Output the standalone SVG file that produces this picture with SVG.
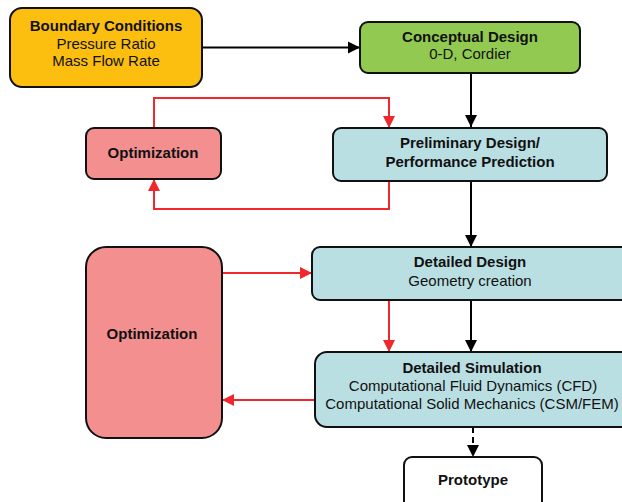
<svg xmlns="http://www.w3.org/2000/svg" width="622" height="502" viewBox="0 0 622 502">
<defs>
<style>
.box{stroke:#111;stroke-width:2}
.t{font-family:"Liberation Sans",Arial,sans-serif;font-size:15px;fill:#111;text-anchor:middle}
.b{font-weight:bold}
.k{fill:none;stroke:#000;stroke-width:2}
.r{fill:none;stroke:#F0282C;stroke-width:2}
</style>
<marker id="ak" markerUnits="userSpaceOnUse" markerWidth="13" markerHeight="13" refX="12" refY="6.5" orient="auto">
<path d="M0,0.5 L12,6.5 L0,12.5 Z" fill="#000"/>
</marker>
<marker id="ar" markerUnits="userSpaceOnUse" markerWidth="13" markerHeight="13" refX="12" refY="6.5" orient="auto">
<path d="M0,0.5 L12,6.5 L0,12.5 Z" fill="#F0282C"/>
</marker>
</defs>
<rect width="622" height="502" fill="#fff"/>
<g id="connectors">
<path class="k" d="M202,47.5 H360" marker-end="url(#ak)"/>
<path class="k" d="M471,73 V127" marker-end="url(#ak)"/>
<path class="k" d="M471,181 V247" marker-end="url(#ak)"/>
<path class="k" d="M471,300 V352" marker-end="url(#ak)"/>
<path class="k" d="M473,427 V457" stroke-dasharray="6,4" marker-end="url(#ak)"/>
<path class="r" d="M154,128 V98 H389 V128" marker-end="url(#ar)"/>
<path class="r" d="M389,181 V209 H154 V179" marker-end="url(#ar)"/>
<path class="r" d="M222,273 H312" marker-end="url(#ar)"/>
<path class="r" d="M389,300 V352" marker-end="url(#ar)"/>
<path class="r" d="M315,400 H222" marker-end="url(#ar)"/>
</g>
<g id="boundary">
<rect class="box" x="10" y="8" width="192" height="79" rx="12" fill="#FCBF10"/>
<text class="t b" x="106" y="31">Boundary Conditions</text>
<text class="t" x="106" y="49">Pressure Ratio</text>
<text class="t" x="106" y="66">Mass Flow Rate</text>
</g>
<g id="conceptual">
<rect class="box" x="360" y="22" width="220" height="51" rx="8" fill="#92C950"/>
<text class="t b" x="470" y="42">Conceptual Design</text>
<text class="t" x="470" y="59">0-D, Cordier</text>
</g>
<g id="preliminary">
<rect class="box" x="333" y="128" width="274" height="53" rx="8" fill="#BADFE3"/>
<text class="t b" x="470" y="148">Preliminary Design/</text>
<text class="t b" x="470" y="167">Performance Prediction</text>
</g>
<g id="optimization1">
<rect class="box" x="86" y="128" width="135" height="51" rx="8" fill="#F48F8F"/>
<text class="t b" x="153" y="158">Optimization</text>
</g>
<g id="detailed-design">
<rect class="box" x="312" y="247" width="320" height="53" rx="8" fill="#BADFE3"/>
<text class="t b" x="470" y="267">Detailed Design</text>
<text class="t" x="470" y="286">Geometry creation</text>
</g>
<g id="optimization2">
<rect class="box" x="86" y="247" width="136" height="191" rx="20" fill="#F48F8F"/>
<text class="t b" x="152" y="339">Optimization</text>
</g>
<g id="detailed-simulation">
<rect class="box" x="315" y="352" width="320" height="75" rx="12" fill="#BADFE3"/>
<text class="t b" x="472" y="373">Detailed Simulation</text>
<text class="t" x="473" y="391">Computational Fluid Dynamics (CFD)</text>
<text class="t" x="472" y="409">Computational Solid Mechanics (CSM/FEM)</text>
</g>
<g id="prototype">
<rect class="box" x="404" y="457" width="138" height="60" rx="8" fill="#fff"/>
<text class="t b" x="473" y="485">Prototype</text>
</g>
</svg>
